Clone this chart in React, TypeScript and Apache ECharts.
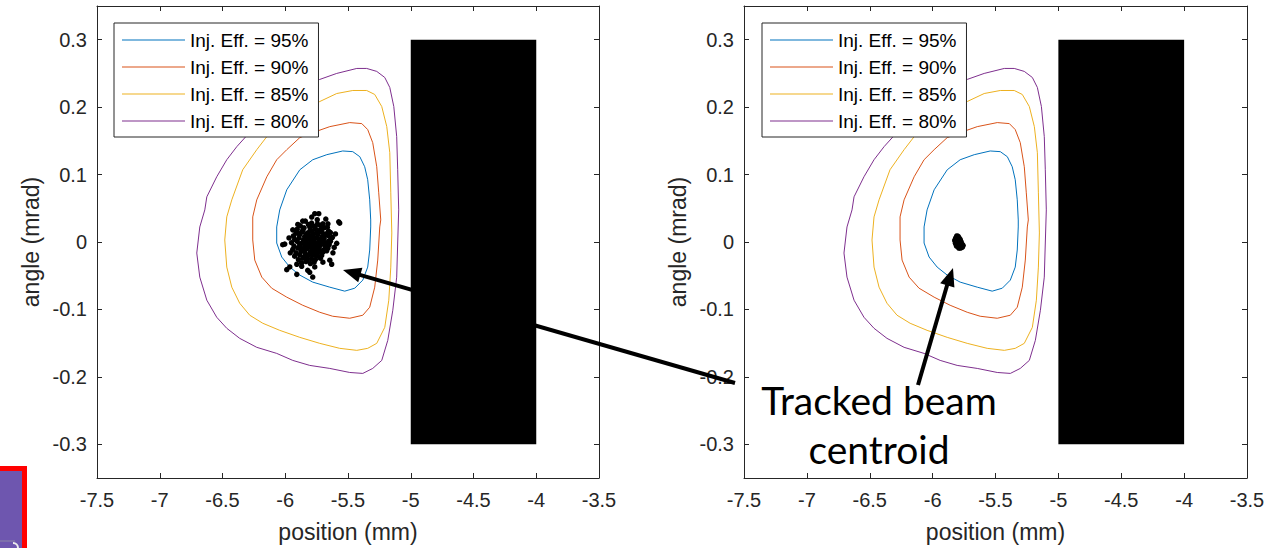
import React, { useEffect, useRef } from "react";
import * as echarts from "echarts";

// ---------- data ----------
const legendNames = ["Inj. Eff. = 95%", "Inj. Eff. = 90%", "Inj. Eff. = 85%", "Inj. Eff. = 80%"];
const contourColors = ["#0072BD", "#D95319", "#EDB120", "#7E2F8E"];

const contour95: [number, number][] = [
  [-5.542, 0.135], [-5.462, 0.134], [-5.406, 0.1265], [-5.367, 0.1116], [-5.343, 0.0923], [-5.327, 0.0625],
  [-5.319, 0.0327], [-5.319, 0.0223], [-5.327, -0.0119], [-5.343, -0.0372], [-5.382, -0.0565], [-5.446, -0.0685],
  [-5.526, -0.0729], [-5.645, -0.067], [-5.781, -0.0595], [-5.884, -0.0491], [-5.964, -0.0372], [-6.028, -0.0223],
  [-6.068, -0.0015], [-6.068, 0.0223], [-6.044, 0.0476], [-5.988, 0.0774], [-5.884, 0.1071], [-5.781, 0.122],
  [-5.669, 0.1295], [-5.542, 0.135],
];
const contour90: [number, number][] = [
  [-5.239, 0.0327], [-5.255, 0.0729], [-5.271, 0.1116], [-5.303, 0.1473], [-5.343, 0.1667], [-5.39, 0.1756],
  [-5.486, 0.1771], [-5.645, 0.1711], [-5.781, 0.1622], [-5.884, 0.1548], [-5.988, 0.1369], [-6.068, 0.122],
  [-6.147, 0.0967], [-6.227, 0.0625], [-6.259, 0.0372], [-6.259, 0.003], [-6.243, -0.0268], [-6.187, -0.0521],
  [-6.108, -0.0685], [-5.988, -0.0818], [-5.861, -0.0938], [-5.725, -0.1042], [-5.622, -0.1101], [-5.486, -0.1131],
  [-5.382, -0.1086], [-5.327, -0.0967], [-5.287, -0.067], [-5.263, -0.0268], [-5.247, 0.0223], [-5.239, 0.0327],
];
const contour85: [number, number][] = [
  [-5.725, 0.2083], [-5.59, 0.2202], [-5.462, 0.2247], [-5.351, 0.2247], [-5.287, 0.2188], [-5.231, 0.2009],
  [-5.191, 0.1711], [-5.167, 0.1324], [-5.159, 0.0729], [-5.151, 0.0134], [-5.159, -0.0372], [-5.175, -0.0863],
  [-5.207, -0.1265], [-5.271, -0.1503], [-5.343, -0.1577], [-5.43, -0.1607], [-5.566, -0.1577], [-5.725, -0.1503],
  [-5.884, -0.1414], [-6.044, -0.131], [-6.179, -0.1205], [-6.283, -0.1086], [-6.363, -0.0908], [-6.426, -0.067],
  [-6.466, -0.0372], [-6.482, 0.003], [-6.466, 0.0372], [-6.426, 0.0625], [-6.339, 0.1071], [-6.227, 0.1369],
  [-6.147, 0.1562], [-5.964, 0.1815], [-5.845, 0.1964], [-5.725, 0.2083],
];
const contour80: [number, number][] = [
  [-5.725, 0.2411], [-5.59, 0.25], [-5.43, 0.2574], [-5.351, 0.2574], [-5.271, 0.253], [-5.207, 0.244],
  [-5.167, 0.2292], [-5.135, 0.2009], [-5.112, 0.1562], [-5.104, 0.1071], [-5.096, 0.0476], [-5.104, -0.0015],
  [-5.112, -0.0521], [-5.143, -0.1012], [-5.183, -0.1458], [-5.231, -0.1756], [-5.303, -0.1875], [-5.382, -0.1949],
  [-5.486, -0.1935], [-5.645, -0.1875], [-5.805, -0.183], [-5.94, -0.1756], [-6.068, -0.1652], [-6.227, -0.1562],
  [-6.363, -0.1429], [-6.466, -0.128], [-6.546, -0.1116], [-6.625, -0.0863], [-6.681, -0.0521], [-6.705, -0.0164],
  [-6.681, 0.0223], [-6.641, 0.0476], [-6.625, 0.067], [-6.546, 0.0967], [-6.466, 0.122], [-6.386, 0.1414],
  [-6.307, 0.1577], [-6.124, 0.1935], [-5.924, 0.2232], [-5.725, 0.2411],
];
const contours = [contour95, contour90, contour85, contour80];

// beam distribution, left panel (individual particles)
const beamLeft: [number, number][] = [
  [-5.84, 0.031], [-5.79, 0.028], [-5.745, 0.033], [-5.70, 0.027],
  [-5.88, 0.024], [-5.815, 0.026], [-5.77, 0.023], [-5.725, 0.025], [-5.665, 0.022],
  [-5.905, 0.019], [-5.85, 0.021], [-5.80, 0.018], [-5.76, 0.020], [-5.73, 0.017], [-5.69, 0.021], [-5.655, 0.016],
  [-5.915, 0.013], [-5.865, 0.015], [-5.83, 0.012], [-5.79, 0.016], [-5.75, 0.013], [-5.71, 0.015], [-5.68, 0.012], [-5.64, 0.014],
  [-5.935, 0.009], [-5.885, 0.011], [-5.845, 0.008], [-5.81, 0.010], [-5.78, 0.007], [-5.74, 0.011], [-5.705, 0.008], [-5.66, 0.010], [-5.625, 0.007],
  [-5.925, 0.004], [-5.89, 0.006], [-5.855, 0.003], [-5.82, 0.005], [-5.79, 0.002], [-5.76, 0.006], [-5.72, 0.003], [-5.69, 0.005], [-5.65, 0.002], [-5.63, 0.006],
  [-5.95, -0.001], [-5.905, 0.001], [-5.87, -0.002], [-5.835, 0.0], [-5.80, -0.001], [-5.77, 0.001], [-5.74, -0.002], [-5.71, 0.0], [-5.675, -0.001], [-5.64, 0.001],
  [-5.93, -0.006], [-5.885, -0.004], [-5.845, -0.007], [-5.81, -0.005], [-5.78, -0.004], [-5.75, -0.006], [-5.72, -0.005], [-5.68, -0.007], [-5.65, -0.004],
  [-5.94, -0.011], [-5.90, -0.009], [-5.86, -0.012], [-5.825, -0.010], [-5.79, -0.009], [-5.76, -0.011], [-5.73, -0.010], [-5.695, -0.012], [-5.66, -0.009],
  [-5.915, -0.016], [-5.875, -0.014], [-5.84, -0.017], [-5.80, -0.015], [-5.77, -0.014], [-5.74, -0.016], [-5.70, -0.015], [-5.67, -0.013],
  [-5.925, -0.021], [-5.885, -0.019], [-5.85, -0.022], [-5.815, -0.020], [-5.78, -0.019], [-5.75, -0.021], [-5.71, -0.020],
  [-5.895, -0.026], [-5.86, -0.024], [-5.825, -0.027], [-5.79, -0.025], [-5.76, -0.026], [-5.72, -0.024],
  [-5.87, -0.031], [-5.835, -0.029], [-5.80, -0.032], [-5.77, -0.030],
  [-5.82, 0.0135], [-5.775, 0.0125], [-5.735, 0.0045], [-5.795, -0.0075], [-5.835, -0.0035], [-5.755, -0.0175],
  [-5.86, 0.0175], [-5.71, 0.0195], [-5.68, -0.0035], [-5.88, -0.0085], [-5.805, 0.0225], [-5.765, -0.0025],
  [-5.73, -0.013], [-5.85, -0.0135], [-5.69, 0.009], [-5.90, 0.0135], [-5.795, 0.0085], [-5.745, 0.0265],
  [-5.83, -0.023], [-5.745, -0.0085],
  [-5.765, 0.042], [-5.733, 0.042], [-5.677, 0.034], [-5.574, 0.030], [-5.789, 0.037], [-5.861, 0.031],
  [-5.90, 0.026], [-6.004, -0.003], [-6.020, -0.004], [-5.964, -0.037], [-5.988, -0.041], [-5.908, -0.033],
  [-5.869, -0.036], [-5.821, -0.042], [-5.765, -0.037], [-5.805, -0.045], [-5.781, -0.052], [-5.630, -0.033],
  [-5.590, -0.002], [-5.620, -0.016], [-5.645, -0.027], [-5.908, -0.048], [-5.566, 0.028], [-5.60, 0.012],
  [-5.97, 0.006], [-5.96, -0.016], [-5.94, 0.018], [-5.61, -0.008], [-5.70, -0.030], [-5.66, 0.027],
];

// tracked beam centroid, right panel
const beamRight: [number, number][] = [
  [-5.808, 0.009], [-5.797, 0.0085], [-5.816, 0.006], [-5.803, 0.005], [-5.79, 0.006], [-5.824, 0.002],
  [-5.811, 0.001], [-5.798, 0.002], [-5.785, 0.002], [-5.773, 0.0], [-5.818, -0.002], [-5.805, -0.003],
  [-5.792, -0.002], [-5.779, -0.003], [-5.766, -0.003], [-5.81, -0.006], [-5.797, -0.006], [-5.784, -0.006],
  [-5.771, -0.006], [-5.758, -0.005], [-5.792, -0.009], [-5.779, -0.009], [-5.767, -0.008], [-5.8, 0.0],
  [-5.787, -0.001], [-5.794, 0.004], [-5.781, 0.004], [-5.812, -0.004], [-5.775, -0.004], [-5.762, -0.007],
  [-5.806, 0.007], [-5.82, 0.004],
];

// septum blade (black block)
const blockX = [-5, -4];
const blockY = [-0.3, 0.3];

const xRange = [-7.5, -3.5];
const xStep = 0.5;
const yRange = [-0.35, 0.35];

const xTitle = "position (mm)";
const yTitle = "angle (mrad)";
const annotationLines = ["Tracked beam", "centroid"];

// ---------- chart ----------
const AXIS_COLOR = "#262626";
const FONT = "'Liberation Sans', Arial, sans-serif";

function yFmt(v: number) {
  const r = Math.round(v * 10) / 10;
  if (Math.abs(r - v) > 1e-6) return "";
  return String(r === 0 ? 0 : r);
}

function makeAxes(gridIndex: number) {
  const tick = { show: true, inside: true, length: 5, lineStyle: { color: AXIS_COLOR, width: 1 } };
  const line = { show: true, onZero: false, lineStyle: { color: AXIS_COLOR, width: 1 } };
  const xBase = { type: "value", gridIndex, min: xRange[0], max: xRange[1], interval: xStep, splitLine: { show: false }, axisLine: line, axisTick: tick };
  const yBase = { type: "value", gridIndex, min: yRange[0], max: yRange[1], splitNumber: 7, splitLine: { show: false }, axisLine: line, axisTick: tick };
  return {
    x: [
      {
        ...xBase, position: "bottom",
        axisLabel: { show: true, margin: 12, fontSize: 20, color: AXIS_COLOR, fontFamily: FONT, showMinLabel: true, showMaxLabel: true, formatter: (v: number) => String(v) },
        name: xTitle, nameLocation: "middle", nameGap: 42,
        nameTextStyle: { fontSize: 23, color: AXIS_COLOR, fontFamily: FONT },
      },
      { ...xBase, position: "top", axisLabel: { show: false } },
    ],
    y: [
      {
        ...yBase, position: "left",
        axisLabel: { show: true, margin: 10, fontSize: 20, color: AXIS_COLOR, fontFamily: FONT, formatter: yFmt },
        name: yTitle, nameLocation: "middle", nameGap: 55,
        nameTextStyle: { fontSize: 23, color: AXIS_COLOR, fontFamily: FONT },
      },
      { ...yBase, position: "right", axisLabel: { show: false } },
    ],
  };
}

function buildOption() {
  const a0 = makeAxes(0);
  const a1 = makeAxes(1);
  const series: any[] = [];
  [0, 1].forEach((p) => {
    contours.forEach((c, i) => {
      series.push({
        type: "line", name: legendNames[i], xAxisIndex: p * 2, yAxisIndex: p * 2,
        data: c, symbol: "none", smooth: false, silent: true,
        lineStyle: { width: 1, color: contourColors[i] }, itemStyle: { color: contourColors[i] },
      });
    });
    series.push({
      type: "scatter", xAxisIndex: p * 2, yAxisIndex: p * 2, silent: true,
      data: p === 0 ? beamLeft : beamRight, symbolSize: 5.5, itemStyle: { color: "#000", opacity: 1 }, z: 5,
      markArea: {
        silent: true, label: { show: false },
        itemStyle: { color: "#000", opacity: 1, borderWidth: 0 },
        data: [[{ coord: [blockX[0], blockY[1]] }, { coord: [blockX[1], blockY[0]] }]],
      },
    });
  });

  const legendBase = {
    top: 23, orient: "vertical", icon: "rect", itemWidth: 63, itemHeight: 1.2, itemGap: 7,
    padding: [7, 10, 6, 8], backgroundColor: "#fff", borderColor: AXIS_COLOR, borderWidth: 1, borderRadius: 0,
    textStyle: { fontSize: 19, fontFamily: FONT, color: "#000", lineHeight: 20 },
    data: legendNames, selectedMode: false, z: 10,
  };

  const arrowW = 4;
  const annFont = "39px Lato, 'Open Sans', sans-serif";
  return {
    animation: false,
    backgroundColor: "#fff",
    grid: [
      { left: 97, top: 6, width: 502, height: 472, containLabel: false },
      { left: 744, top: 6, width: 503, height: 472, containLabel: false },
    ],
    xAxis: [...a0.x, ...a1.x],
    yAxis: [...a0.y, ...a1.y],
    legend: [
      { ...legendBase, left: 114 },
      { ...legendBase, left: 762 },
    ],
    series,
    graphic: [
      // slide artifact bottom-left
      { type: "rect", shape: { x: -6, y: 468.5, width: 30.5, height: 90 }, style: { fill: "#6E56AF", stroke: "#FF0000", lineWidth: 5 }, z: 20 },
      { type: "line", shape: { x1: 0, y1: 541, x2: 15, y2: 541 }, style: { stroke: "#8C86A8", lineWidth: 1 }, z: 21 },
      { type: "arc", shape: { cx: 13, cy: 548, r: 5, startAngle: -Math.PI / 2, endAngle: 0 }, style: { stroke: "#EDEDED", lineWidth: 2, fill: "none" }, z: 21 },
      // arrow 1
      { type: "line", shape: { x1: 735, y1: 383, x2: 359, y2: 274.6 }, style: { stroke: "#000", lineWidth: arrowW }, z: 30 },
      { type: "polygon", shape: { points: [[343, 270], [362.4, 267.8], [358.2, 282.2]] }, style: { fill: "#000" }, z: 30 },
      // arrow 2
      { type: "line", shape: { x1: 918, y1: 385, x2: 947.3, y2: 284.5 }, style: { stroke: "#000", lineWidth: arrowW }, z: 30 },
      { type: "polygon", shape: { points: [[953, 268], [954.4, 287.4], [940.2, 283.2]] }, style: { fill: "#000" }, z: 30 },
      // annotation text
      { type: "text", x: 879, y: 400, style: { text: annotationLines[0], fill: "#000", font: annFont, textAlign: "center", textVerticalAlign: "middle" }, z: 30 },
      { type: "text", x: 879, y: 449, style: { text: annotationLines[1], fill: "#000", font: annFont, textAlign: "center", textVerticalAlign: "middle" }, z: 30 },
    ],
  };
}

export default function App() {
  const ref = useRef<HTMLDivElement>(null);
  useEffect(() => {
    if (!ref.current) return;
    const chart = echarts.init(ref.current, null, { renderer: "svg" });
    chart.setOption(buildOption() as any);
    return () => chart.dispose();
  }, []);
  return <div ref={ref} style={{ position: "absolute", left: 0, top: 0, width: 1279, height: 548, background: "#fff" }} />;
}
